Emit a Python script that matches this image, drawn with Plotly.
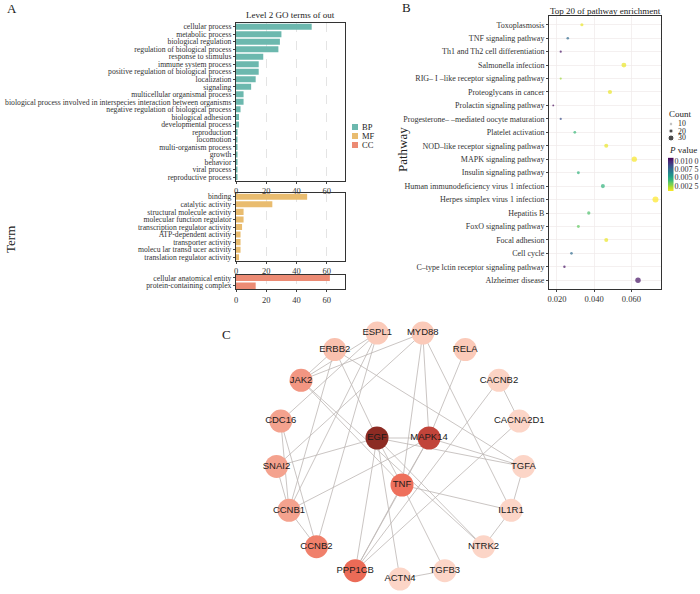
import math
import numpy as np
import plotly.graph_objects as go

W, H = 700, 594
SERIF = "Liberation Serif"
SANS = "Liberation Sans"

# ---------------- Panel A data ----------------
bp_terms = ["cellular process", "metabolic process", "biological regulation",
            "regulation of biological process", "response to stimulus",
            "immune system process", "positive regulation of biological process",
            "localization", "signaling", "multicellular organismal process",
            "biological process involved in interspecies interaction between organisms",
            "negative regulation of biological process", "biological adhesion",
            "developmental process", "reproduction", "locomotion",
            "multi-organism process", "growth", "behavior", "viral process",
            "reproductive process"]
bp_vals = [50, 30, 29, 28, 18, 15, 15, 13, 10, 5, 5, 3, 2, 2, 1, 1, 1, 1, 1, 1, 1]

mf_terms = ["binding", "catalytic activity", "structural molecule activity",
            "molecular function regulator", "transcription regulator activity",
            "ATP-dependent activity", "transporter activity",
            "molecu lar transd ucer activity", "translation regulator activity"]
mf_vals = [47, 24, 5, 5, 4, 3, 3, 3, 2]

cc_terms = ["cellular anatomical entity", "protein-containing complex"]
cc_vals = [62, 13]

go_groups = ["BP", "MF", "CC"]

# ---------------- Panel B data ----------------
pathways = ["Toxoplasmosis", "TNF signaling pathway", "Th1 and Th2 cell differentiation",
            "Salmonella infection", "RIG– I –like receptor signaling pathway",
            "Proteoglycans in cancer", "Prolactin signaling pathway",
            "Progesterone– –mediated oocyte maturation", "Platelet activation",
            "NOD–like receptor signaling pathway", "MAPK signaling pathway",
            "Insulin signaling pathway", "Human immunodeficiency virus 1 infection",
            "Herpes simplex virus 1 infection", "Hepatitis B", "FoxO signaling pathway",
            "Focal adhesion", "Cell cycle", "C–type lctin receptor signaling pathway",
            "Alzheimer disease"]
ratio = [0.0334, 0.0258, 0.0220, 0.0560, 0.0220, 0.0485, 0.0180, 0.0220, 0.0296,
         0.0465, 0.0616, 0.0315, 0.0447, 0.0730, 0.0371, 0.0315, 0.0465, 0.0278,
         0.0240, 0.0636]
pvals = [0.0012, 0.0075, 0.0105, 0.0012, 0.0024, 0.0012, 0.0108, 0.0085, 0.0042,
         0.0012, 0.0010, 0.0045, 0.0045, 0.0009, 0.0038, 0.0034, 0.0012, 0.0075,
         0.0105, 0.0105]
counts = [14, 11, 9, 24, 9, 20, 7, 9, 12, 19, 26, 13, 19, 30, 15, 13, 19, 11, 10, 27]
count_legend = [10, 20, 30]
p_ticks = [0.0025, 0.005, 0.0075, 0.010]
p_ticktext = ["0.002 5", "0.005 0", "0.007 5", "0.010 0"]

# ---------------- Panel C data ----------------
ring_nodes = ["ACTN4", "TGFB3", "NTRK2", "IL1R1", "TGFA", "CACNA2D1", "CACNB2", "RELA",
              "MYD88", "ESPL1", "ERBB2", "JAK2", "CDC16", "SNAI2", "CCNB1", "CCNB2", "PPP1CB"]
inner_nodes = ["EGF", "MAPK14", "TNF"]
inner_offsets = [(-23, -17), (29, -17), (2, 30)]
node_colors = {
    "EGF": "#8c2b23", "MAPK14": "#c1443a", "TNF": "#ee705c", "PPP1CB": "#eb6b57",
    "CCNB2": "#f0806b", "JAK2": "#f29682", "CDC16": "#f4a28e", "SNAI2": "#f4a28e",
    "CCNB1": "#f4a28e", "ERBB2": "#f9c0ae", "ESPL1": "#fbcab9", "MYD88": "#fbcab9",
    "RELA": "#fbcab9", "CACNB2": "#fcd3c4", "CACNA2D1": "#fcd5c7", "TGFA": "#fcd5c7",
    "IL1R1": "#fcd5c7", "NTRK2": "#fcd5c7", "TGFB3": "#fcd5c7", "ACTN4": "#fcd5c7",
}
edges = [("EGF", "MAPK14"), ("EGF", "TNF"), ("MAPK14", "TNF"), ("EGF", "SNAI2"),
         ("EGF", "ERBB2"), ("EGF", "TGFA"), ("EGF", "NTRK2"), ("EGF", "ACTN4"),
         ("EGF", "PPP1CB"), ("MAPK14", "TGFA"), ("MAPK14", "CCNB1"), ("MAPK14", "PPP1CB"),
         ("MAPK14", "RELA"), ("MAPK14", "MYD88"), ("TNF", "MYD88"), ("TNF", "IL1R1"),
         ("TNF", "TGFB3"), ("TNF", "PPP1CB"), ("TNF", "JAK2"), ("ERBB2", "JAK2"),
         ("ERBB2", "TGFA"), ("ERBB2", "CCNB1"), ("JAK2", "MYD88"), ("JAK2", "NTRK2"),
         ("ESPL1", "CDC16"), ("ESPL1", "CCNB1"), ("ESPL1", "CCNB2"), ("ESPL1", "JAK2"),
         ("CDC16", "CCNB1"), ("CDC16", "CCNB2"), ("SNAI2", "CCNB1"), ("CCNB1", "CCNB2"),
         ("CACNB2", "CACNA2D1"), ("CACNB2", "PPP1CB"), ("CACNA2D1", "PPP1CB"),
         ("MYD88", "IL1R1"), ("TGFA", "IL1R1"), ("IL1R1", "NTRK2"), ("TGFB3", "ACTN4"),
         ("MYD88", "SNAI2")]

# ---------------- helpers ----------------
def py(v):
    return 1 - v / H

def px(v):
    return v / W

def msize(c):
    return 0.6 + 0.18 * c

CMIN, CMAX = 0.0009, 0.0110
fig = go.Figure()

# ---- Panel A bars ----
colors = {"BP": "#6cb8ae", "MF": "#e9bc6f", "CC": "#ec8b74"}
for (g, terms, vals, ax) in [("BP", bp_terms, bp_vals, ""), ("MF", mf_terms, mf_vals, "2"),
                             ("CC", cc_terms, cc_vals, "3")]:
    fig.add_trace(go.Bar(x=vals, y=terms, orientation="h", marker_color=colors[g],
                         marker_line_width=0, width=0.8, name=g, showlegend=False,
                         xaxis="x" + ax, yaxis="y" + ax))

# ---- Panel B dots ----
fig.add_trace(go.Scatter(
    x=ratio, y=pathways, mode="markers", xaxis="x4", yaxis="y4", showlegend=False,
    marker=dict(size=[msize(c) for c in counts], color=pvals, colorscale="Viridis",
                reversescale=True, cmin=CMIN, cmax=CMAX, line=dict(width=0),
                showscale=False)))

# colour bar drawn as a thin heatmap
grad = np.linspace(CMIN, CMAX, 60)
fig.add_trace(go.Heatmap(z=[[v] for v in grad], y=grad, x=[0], colorscale="Viridis",
                         reversescale=True, zmin=CMIN, zmax=CMAX, showscale=False,
                         xaxis="x6", yaxis="y6", hoverinfo="skip"))

# ---- Legends (drawn on the pixel overlay axis) ----
leg_x, leg_y0, leg_dy = 355, 127, 9
fig.add_trace(go.Scatter(x=[leg_x] * 3, y=[leg_y0 + i * leg_dy for i in range(3)],
                         mode="markers", xaxis="x5", yaxis="y5", showlegend=False,
                         marker=dict(symbol="square", size=6,
                                     color=[colors[g] for g in go_groups]),
                         hoverinfo="skip"))
cnt_x, cnt_y0, cnt_dy = 671, 124, 7
fig.add_trace(go.Scatter(x=[cnt_x] * 3, y=[cnt_y0 + i * cnt_dy for i in range(3)],
                         mode="markers", xaxis="x5", yaxis="y5", showlegend=False,
                         marker=dict(size=[msize(c) for c in count_legend], color="black"),
                         hoverinfo="skip"))

# ---- Panel C network ----
cx, cy, R = 400, 455, 124
pos = {}
for k, n in enumerate(ring_nodes):
    a = math.radians(90 - k * 360 / len(ring_nodes))
    pos[n] = (cx + R * math.cos(a), cy + R * math.sin(a))
for n, (dx, dy) in zip(inner_nodes, inner_offsets):
    pos[n] = (cx + dx, cy + dy)

ex, ey = [], []
for a, b in edges:
    ex += [pos[a][0], pos[b][0], None]
    ey += [pos[a][1], pos[b][1], None]
fig.add_trace(go.Scatter(x=ex, y=ey, mode="lines", xaxis="x5", yaxis="y5",
                         line=dict(color="#bdb6b4", width=0.8), hoverinfo="skip",
                         showlegend=False))
names = ring_nodes + inner_nodes
fig.add_trace(go.Scatter(x=[pos[n][0] for n in names], y=[pos[n][1] for n in names],
                         mode="markers+text", text=names, textposition="middle center",
                         textfont=dict(family=SANS, size=9.5, color="#1a1a1a"),
                         marker=dict(size=23, color=[node_colors[n] for n in names],
                                     line=dict(width=0)),
                         xaxis="x5", yaxis="y5", showlegend=False))

# ---------------- layout ----------------
tickf = dict(family=SERIF, size=7.7, color="#333")
box = dict(showline=True, mirror=True, linecolor="#333", linewidth=1, zeroline=False,
           automargin=False)
axA_x = dict(range=[0, 72], tickvals=[0, 20, 40, 60], ticks="outside", ticklen=2,
             tickfont=dict(family=SERIF, size=8.5, color="#333"), showgrid=True,
             gridcolor="#d9d9d9", griddash="dash", gridwidth=0.7, **box)


def axA_y(terms, rng, dom):
    return dict(type="category", tickmode="array", tickvals=terms, ticktext=terms,
                range=rng, domain=dom, ticks="outside", ticklen=2, tickfont=tickf,
                showgrid=False, **box)


def ann(text, x, y, size=9, xanchor="center", angle=0, family=SERIF):
    return dict(text=text, x=px(x), y=py(y), xref="paper", yref="paper", showarrow=False,
                xanchor=xanchor, yanchor="middle", textangle=angle,
                font=dict(family=family, size=size, color="#222"))


annotations = [
    ann("A", 12, 9, 13), ann("B", 406, 7, 13), ann("C", 226, 334, 13),
    ann("Level 2 GO terms of out", 290, 15),
    ann("Top 20 of pathway enrichment", 605, 11),
    ann("Term", 11, 240, 13, angle=-90), ann("Pathway", 402, 150, 13, angle=-90),
    ann("Count", 667, 114, 9, xanchor="left"),
    ann("<i>P</i> value", 667, 150, 9, xanchor="left"),
]
for i, g in enumerate(go_groups):
    annotations.append(ann(g, leg_x + 5, leg_y0 + i * leg_dy, 8.5, xanchor="left"))
for i, c in enumerate(count_legend):
    annotations.append(ann(str(c), cnt_x + 5, cnt_y0 + i * cnt_dy, 7.8, xanchor="left"))

fig.update_layout(
    template="none",
    width=W, height=H, margin=dict(l=0, r=0, t=0, b=0, autoexpand=False),
    paper_bgcolor="white", plot_bgcolor="rgba(0,0,0,0)", showlegend=False,
    font=dict(family=SERIF, color="#222"),
    xaxis=dict(domain=[px(236), px(345)], anchor="y", **axA_x),
    yaxis=dict(anchor="x", **axA_y(bp_terms, [20.53, -0.53], [py(181), py(22.7)])),
    xaxis2=dict(domain=[px(236), px(345)], anchor="y2", **axA_x),
    yaxis2=dict(anchor="x2", **axA_y(mf_terms, [8.45, -0.45], [py(260.7), py(193.3)])),
    xaxis3=dict(domain=[px(236), px(345)], anchor="y3", **axA_x),
    yaxis3=dict(anchor="x3", **axA_y(cc_terms, [1.45, -0.4], [py(289.3), py(274.7)])),
    xaxis4=dict(domain=[px(549), px(660.5)], anchor="y4", range=[0.0157, 0.0757],
                tickvals=[0.02, 0.04, 0.06], tickformat=".3f", ticks="outside", ticklen=2,
                tickfont=dict(family=SERIF, size=8.5, color="#333"), showgrid=True,
                gridcolor="#efe9e9", gridwidth=0.7, **box),
    yaxis4=dict(domain=[py(289), py(16)], anchor="x4", type="category", tickmode="array",
                tickvals=pathways, ticktext=pathways,
                range=[19.65, -0.65], ticks="outside", ticklen=2,
                tickfont=dict(family=SERIF, size=8, color="#333"),
                showgrid=True, gridcolor="#efe9e9", gridwidth=0.7, **box),
    xaxis5=dict(domain=[0, 1], anchor="y5", range=[0, W], visible=False, automargin=False),
    yaxis5=dict(domain=[0, 1], anchor="x5", range=[H, 0], visible=False, automargin=False),
    xaxis6=dict(domain=[px(668), px(673.5)], anchor="y6", visible=False, automargin=False),
    yaxis6=dict(domain=[py(191), py(157.7)], anchor="x6", side="right", range=[CMIN, CMAX],
                tickvals=p_ticks, ticktext=p_ticktext, ticks="", showgrid=False,
                showline=False, zeroline=False, automargin=False,
                tickfont=dict(family=SERIF, size=8, color="#333")),
    annotations=annotations,
)

fig.write_html("out.html", config={"displayModeBar": False, "staticPlot": True},
               post_script="document.body.style.margin='0';document.body.style.overflow='hidden';")
